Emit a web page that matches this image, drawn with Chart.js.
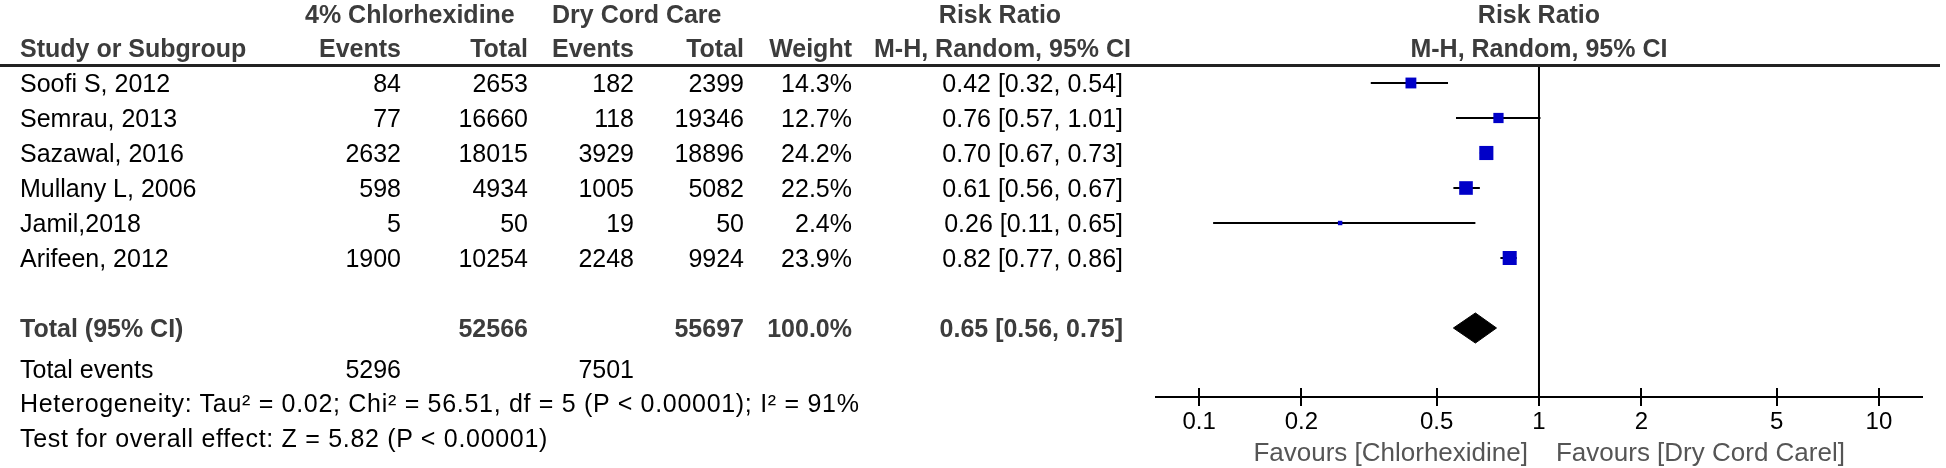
<!DOCTYPE html>
<html><head><meta charset="utf-8">
<script src="https://cdn.jsdelivr.net/npm/chart.js@4.4.1/dist/chart.umd.min.js"></script>
<style>
html,body{margin:0;padding:0;background:#fff;}
#wrap{position:relative;width:1946px;height:468px;overflow:hidden;font-family:'Liberation Sans',Arial,sans-serif;}
#c{position:absolute;left:0;top:0;}
.t{position:absolute;white-space:nowrap;font-size:25px;line-height:30px;color:#000;}
.h{font-weight:bold;color:#3c3c3c;}
.g{color:#555;font-size:26px;}
.w{letter-spacing:0.7px;}
#rule{position:absolute;left:0;top:64px;width:1940px;height:3px;background:#222;}
</style></head><body>
<div id="wrap"><canvas id="c" width="1946" height="468"></canvas><div id="rule"></div></div>
<script>
// ---- data ----
const studies   = ['Soofi S, 2012','Semrau, 2013','Sazawal, 2016','Mullany L, 2006','Jamil,2018','Arifeen, 2012'];
const chxEvents = [84, 77, 2632, 598, 5, 1900];
const chxTotal  = [2653, 16660, 18015, 4934, 50, 10254];
const dryEvents = [182, 118, 3929, 1005, 19, 2248];
const dryTotal  = [2399, 19346, 18896, 5082, 50, 9924];
const weights   = [14.3, 12.7, 24.2, 22.5, 2.4, 23.9];
const rr        = [0.42, 0.76, 0.70, 0.61, 0.26, 0.82];
const ciLow     = [0.32, 0.57, 0.67, 0.56, 0.11, 0.77];
const ciHigh    = [0.54, 1.01, 0.73, 0.67, 0.65, 0.86];
const pooledRR = 0.65, pooledLow = 0.56, pooledHigh = 0.75;
const totalChx = 52566, totalDry = 55697, totalWeight = '100.0%';
const eventsChx = 5296, eventsDry = 7501;
const heterogeneity = 'Heterogeneity: Tau\u00B2 = 0.02; Chi\u00B2 = 56.51, df = 5 (P < 0.00001); I\u00B2 = 91%';
const overallEffect = 'Test for overall effect: Z = 5.82 (P < 0.00001)';
const tickValues = [0.1, 0.2, 0.5, 1, 2, 5, 10];
const tickLabels = ['0.1', '0.2', '0.5', '1', '2', '5', '10'];
const favoursLeft = 'Favours [Chlorhexidine]';
const favoursRight = 'Favours [Dry Cord Carel]';

// ---- layout / style ----
const FONT = "'Liberation Sans', Arial, sans-serif";
const pooledRow = 7;
const yMin = -0.514, yMax = 8.971;
const diamondHalf = 0.43;
const squareColor = '#0000C8';

const datasets = [];
// squares (on top)
datasets.push({
  type: 'scatter',
  data: rr.map((v, i) => ({x: v, y: i})),
  pointStyle: 'rect',
  pointRadius: weights.map(w => 2.03 * Math.sqrt(w)),
  pointBackgroundColor: squareColor,
  pointBorderWidth: 0,
  showLine: false,
  order: 0
});
// CI lines
rr.forEach((v, i) => {
  datasets.push({
    type: 'line',
    data: [{x: ciLow[i], y: i}, {x: ciHigh[i], y: i}],
    borderColor: '#000', borderWidth: 2, pointRadius: 0, fill: false, order: 1
  });
});
// pooled diamond
datasets.push({
  type: 'line',
  data: [
    {x: pooledLow, y: pooledRow},
    {x: pooledRR, y: pooledRow - diamondHalf},
    {x: pooledHigh, y: pooledRow},
    {x: pooledRR, y: pooledRow + diamondHalf},
    {x: pooledLow, y: pooledRow}
  ],
  borderColor: '#000', backgroundColor: '#000', borderWidth: 1, pointRadius: 0,
  fill: 'shape', tension: 0, order: 1
});
// line of no effect
datasets.push({
  type: 'line',
  data: [{x: 1, y: yMin}, {x: 1, y: yMax}],
  borderColor: '#000', borderWidth: 2, pointRadius: 0, fill: false, order: 2
});

const upperTicks = {
  id: 'upperTicks',
  afterDraw(chart) {
    const s = chart.scales.x, ctx = chart.ctx, b = chart.chartArea.bottom;
    ctx.save();
    ctx.strokeStyle = '#000'; ctx.lineWidth = 2;
    tickValues.forEach(v => {
      const x = Math.round(s.getPixelForValue(v));
      ctx.beginPath(); ctx.moveTo(x, b - 9); ctx.lineTo(x, b); ctx.stroke();
    });
    ctx.restore();
  }
};

const chart = new Chart(document.getElementById('c'), {
  type: 'line',
  data: { datasets },
  plugins: [upperTicks],
  options: {
    responsive: false, animation: false, devicePixelRatio: 1, events: [],
    layout: { padding: { left: 1156, right: 24, top: 65, bottom: 0 } },
    plugins: { legend: { display: false }, tooltip: { enabled: false } },
    scales: {
      x: {
        type: 'logarithmic', min: 0.0747, max: 13.39,
        afterBuildTicks: s => { s.ticks = tickValues.map(v => ({ value: v })); },
        afterFit: s => { s.height = 71; },
        ticks: {
          autoSkip: false, maxRotation: 0, color: '#000', padding: 2,
          font: { family: FONT, size: 24 },
          callback: v => tickLabels[tickValues.indexOf(v)]
        },
        grid: { drawOnChartArea: false, drawTicks: true, tickLength: 9, color: '#000', lineWidth: 2 },
        border: { display: true, color: '#000', width: 2 }
      },
      y: { type: 'linear', display: false, reverse: true, min: yMin, max: yMax }
    }
  }
});

// ---- table text ----
const wrap = document.getElementById('wrap');
const ys = chart.scales.y;
function txt(str, x, y, align, cls) {
  const d = document.createElement('div');
  d.className = 't' + (cls ? ' ' + cls : '');
  d.textContent = str;
  d.style.top = (y - 15) + 'px';
  if (align === 'right') { d.style.left = (x - 700) + 'px'; d.style.width = '700px'; d.style.textAlign = 'right'; }
  else if (align === 'center') { d.style.left = (x - 400) + 'px'; d.style.width = '800px'; d.style.textAlign = 'center'; }
  else { d.style.left = x + 'px'; }
  wrap.appendChild(d);
}
const labelX = 20, colR = [401, 528, 634, 744, 852], ciR = 1123;
const h1 = 14, h2 = 48;
txt('4% Chlorhexidine', 305, h1, 'left', 'h');
txt('Dry Cord Care', 552, h1, 'left', 'h');
txt('Risk Ratio', 1000, h1, 'center', 'h');
txt('Risk Ratio', chart.scales.x.getPixelForValue(1), h1, 'center', 'h');
txt('Study or Subgroup', labelX, h2, 'left', 'h');
txt('Events', colR[0], h2, 'right', 'h');
txt('Total', colR[1], h2, 'right', 'h');
txt('Events', colR[2], h2, 'right', 'h');
txt('Total', colR[3], h2, 'right', 'h');
txt('Weight', colR[4], h2, 'right', 'h');
txt('M-H, Random, 95% CI', 1131, h2, 'right', 'h');
txt('M-H, Random, 95% CI', chart.scales.x.getPixelForValue(1), h2, 'center', 'h');

const f2 = v => v.toFixed(2);
studies.forEach((s, i) => {
  const y = ys.getPixelForValue(i);
  txt(s, labelX, y, 'left');
  txt(String(chxEvents[i]), colR[0], y, 'right');
  txt(String(chxTotal[i]), colR[1], y, 'right');
  txt(String(dryEvents[i]), colR[2], y, 'right');
  txt(String(dryTotal[i]), colR[3], y, 'right');
  txt(weights[i].toFixed(1) + '%', colR[4], y, 'right');
  txt(f2(rr[i]) + ' [' + f2(ciLow[i]) + ', ' + f2(ciHigh[i]) + ']', ciR, y, 'right');
});
const yt = ys.getPixelForValue(pooledRow);
txt('Total (95% CI)', labelX, yt, 'left', 'h');
txt(String(totalChx), colR[1], yt, 'right', 'h');
txt(String(totalDry), colR[3], yt, 'right', 'h');
txt(totalWeight, colR[4], yt, 'right', 'h');
txt(f2(pooledRR) + ' [' + f2(pooledLow) + ', ' + f2(pooledHigh) + ']', ciR, yt, 'right', 'h');
txt('Total events', labelX, 369, 'left');
txt(String(eventsChx), colR[0], 369, 'right');
txt(String(eventsDry), colR[2], 369, 'right');
txt(heterogeneity, labelX, 403, 'left', 'w');
txt(overallEffect, labelX, 438, 'left', 'w');
const x1 = chart.scales.x.getPixelForValue(1);
txt(favoursLeft, x1 - 11, 452, 'right', 'g');
txt(favoursRight, x1 + 17, 452, 'left', 'g');
</script>
</body></html>
